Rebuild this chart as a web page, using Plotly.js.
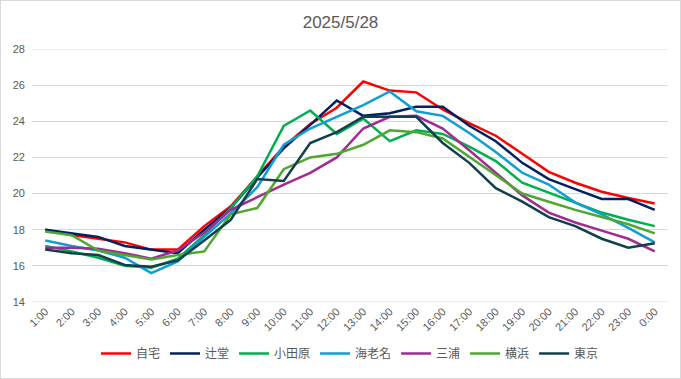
<!DOCTYPE html>
<html>
<head>
<meta charset="utf-8">
<script src="https://cdn.plot.ly/plotly-3.0.1.min.js"></script>
<style>
html,body{margin:0;padding:0;background:#fff;}
#chart{width:681px;height:379px;box-sizing:border-box;border:1px solid #d9d9d9;}
</style>
</head>
<body>
<div id="chart"></div>
<script>
const hours = ["1:00","2:00","3:00","4:00","5:00","6:00","7:00","8:00","9:00","10:00","11:00","12:00",
               "13:00","14:00","15:00","16:00","17:00","18:00","19:00","20:00","21:00","22:00","23:00","0:00"];

const jitaku   = [18.0,17.7,17.5,17.3,16.9,16.9,18.2,19.3,20.95,22.6,23.85,24.75,26.2,25.7,25.6,24.65,23.9,23.2,22.2,21.2,20.6,20.1,19.75,19.45];
const tsujido  = [18.0,17.8,17.6,17.1,16.9,16.7,18.0,19.2,20.9,22.5,23.8,25.15,24.3,24.45,24.8,24.8,23.75,22.9,21.7,20.8,20.25,19.7,19.7,19.1];
const odawara  = [17.1,16.8,16.45,16.0,15.9,16.4,17.7,19.2,20.95,23.75,24.6,23.3,24.15,22.9,23.5,23.3,22.6,21.8,20.6,20.05,19.5,18.95,18.55,18.2];
const ebina    = [17.4,17.1,16.85,16.45,15.6,16.25,17.6,18.9,20.35,22.7,23.6,24.25,24.9,25.65,24.55,24.3,23.35,22.3,21.15,20.5,19.5,18.85,18.1,17.3];
const miura    = [17.0,17.0,16.95,16.7,16.4,16.85,17.85,19.1,19.8,20.5,21.15,22.0,23.6,24.25,24.3,23.6,22.4,21.15,19.9,18.95,18.4,17.95,17.5,16.8];
const yokohama = [17.9,17.7,16.85,16.6,16.35,16.6,16.8,18.85,19.2,21.35,22.0,22.2,22.7,23.5,23.4,23.05,22.05,21.05,20.0,19.55,19.1,18.7,18.3,17.8];
const tokyo    = [16.9,16.7,16.6,16.05,15.95,16.3,17.4,18.55,20.8,20.7,22.8,23.4,24.25,24.25,24.25,22.8,21.7,20.3,19.55,18.7,18.2,17.5,17.0,17.25];

const seriesNames  = ["自宅","辻堂","小田原","海老名","三浦","横浜","東京"];
const seriesValues = [jitaku, tsujido, odawara, ebina, miura, yokohama, tokyo];
const seriesColors = ["#FF0000","#002060","#00B050","#0F9ED5","#A02B93","#4EA72E","#123F4E"];

const yTicks = [14,16,18,20,22,24,26,28];
const titleText = "2025/5/28";

const baseFont = "'Liberation Sans', 'Noto Sans CJK JP', sans-serif";

const traces = seriesNames.map((n, i) => ({
  type: "scatter",
  mode: "lines",
  name: n,
  x: hours,
  y: seriesValues[i],
  line: {color: seriesColors[i], width: 2.5},
  hoverinfo: "x+y+name"
}));

const layout = {
  width: 679,
  height: 377,
  paper_bgcolor: "#ffffff",
  plot_bgcolor: "#ffffff",
  margin: {l: 31, r: 12, t: 48, b: 76, autoexpand: false},
  font: {family: baseFont, color: "#595959", size: 11},
  title: {
    text: titleText,
    x: 0.5, xanchor: "center",
    y: 0.945, yanchor: "middle", yref: "container",
    font: {family: baseFont, size: 17, color: "#595959"}
  },
  xaxis: {
    type: "category",
    range: [-0.5, 23.5],
    tickangle: -45,
    showgrid: false,
    showline: false,
    zeroline: false,
    ticks: "",
    automargin: false,
    tickfont: {family: baseFont, size: 11, color: "#595959"},
    fixedrange: true
  },
  yaxis: {
    range: [14, 28],
    tickvals: yTicks,
    ticktext: yTicks.map(String),
    showgrid: true,
    gridcolor: "#d9d9d9",
    gridwidth: 1,
    zeroline: false,
    showline: false,
    ticks: "",
    automargin: false,
    ticklabelstandoff: 6,
    tickfont: {family: baseFont, size: 11, color: "#595959"},
    fixedrange: true
  },
  shapes: [
    {type: "line", xref: "paper", yref: "y", x0: 0, x1: 1, y0: 14, y1: 14, line: {color: "#d9d9d9", width: 1}},
    {type: "line", xref: "paper", yref: "y", x0: 0, x1: 1, y0: 28, y1: 28, line: {color: "#d9d9d9", width: 1}}
  ],
  showlegend: true,
  legend: {
    orientation: "h",
    x: 0.5, xanchor: "center",
    yref: "container",
    y: 0.065, yanchor: "middle",
    font: {family: "'Noto Sans CJK JP', sans-serif", size: 12, color: "#595959"},
    itemwidth: 30,
    tracegroupgap: 0,
    bgcolor: "rgba(0,0,0,0)"
  }
};

Plotly.newPlot("chart", traces, layout, {displayModeBar: false, staticPlot: true});
</script>
</body>
</html>
